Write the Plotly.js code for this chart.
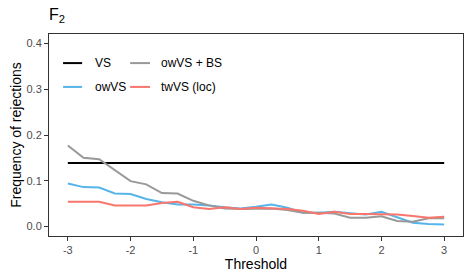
<!DOCTYPE html>
<html>
<head>
<meta charset="utf-8">
<script src="https://cdn.plot.ly/plotly-3.0.1.min.js"></script>
<style>html,body{margin:0;padding:0;background:#fff;}#chart{width:472px;height:280px;}</style>
</head>
<body>
<div id="chart"></div>
<script>
const thresholds = [-3,-2.75,-2.5,-2.25,-2,-1.75,-1.5,-1.25,-1,-0.75,-0.5,-0.25,0,0.25,0.5,0.75,1,1.25,1.5,1.75,2,2.25,2.5,2.75,3];
const seriesNames = ["VS", "owVS", "owVS + BS", "twVS (loc)"];
const vsValues = [0.139,0.139,0.139,0.139,0.139,0.139,0.139,0.139,0.139,0.139,0.139,0.139,0.139,0.139,0.139,0.139,0.139,0.139,0.139,0.139,0.139,0.139,0.139,0.139,0.139];
const owvsValues = [0.094,0.086,0.085,0.072,0.071,0.060,0.053,0.048,0.048,0.046,0.042,0.039,0.043,0.048,0.041,0.030,0.030,0.032,0.029,0.026,0.032,0.020,0.008,0.005,0.004];
const owvsBsValues = [0.177,0.150,0.147,0.122,0.099,0.092,0.073,0.072,0.056,0.046,0.039,0.038,0.038,0.039,0.036,0.030,0.030,0.028,0.019,0.019,0.022,0.012,0.010,0.018,0.018];
const twvsLocValues = [0.054,0.054,0.054,0.046,0.046,0.046,0.051,0.054,0.042,0.038,0.042,0.038,0.041,0.039,0.038,0.034,0.027,0.032,0.027,0.027,0.027,0.026,0.023,0.019,0.021];
const yTicks = [0, 0.1, 0.2, 0.3, 0.4];
const xTicks = [-3, -2, -1, 0, 1, 2, 3];

const colors = ["#000000", "#56B4E9", "#999999", "#F8766D"];
const values = [vsValues, owvsValues, owvsBsValues, twvsLocValues];

const traces = values.map((v, i) => ({
  x: thresholds, y: v, type: "scatter", mode: "lines", name: seriesNames[i],
  line: {color: colors[i], width: 2}, showlegend: false, hoverinfo: "skip"
}));

// manual legend (ggplot-style, 2 rows, filled by column)
const legendPos = [
  {x0: 0.034, x1: 0.080, tx: 0.106, y: 0.856},
  {x0: 0.034, x1: 0.080, tx: 0.106, y: 0.738},
  {x0: 0.196, x1: 0.244, tx: 0.266, y: 0.856},
  {x0: 0.196, x1: 0.244, tx: 0.266, y: 0.738}
];
const shapes = legendPos.map((p, i) => ({
  type: "line", xref: "paper", yref: "paper", x0: p.x0, x1: p.x1, y0: p.y, y1: p.y,
  line: {color: colors[i], width: 2}
}));
const annotations = legendPos.map((p, i) => ({
  xref: "paper", yref: "paper", x: p.tx, y: p.y, xanchor: "left", yanchor: "middle",
  text: seriesNames[i], showarrow: false, font: {size: 12, color: "#000"}
}));

const layout = {
  width: 472, height: 280,
  margin: {l: 49, r: 9, t: 34, b: 44},
  paper_bgcolor: "#fff", plot_bgcolor: "#fff",
  font: {family: "Liberation Sans, Arial, sans-serif", color: "#000"},
  title: {text: "F<sub>2</sub>", x: 0, xref: "paper", xanchor: "left", y: 0.95, yref: "container", yanchor: "middle", font: {size: 16, color: "#000"}},
  xaxis: {
    range: [-3.3, 3.3], tickvals: xTicks, ticktext: xTicks.map(String),
    showgrid: false, zeroline: false, showline: true, mirror: true, linecolor: "#333", linewidth: 1,
    ticks: "outside", ticklen: 4, tickcolor: "#333", tickfont: {size: 11, color: "#4D4D4D"},
    title: {text: "Threshold", font: {size: 14, color: "#000"}, standoff: 2}
  },
  yaxis: {
    range: [-0.021, 0.421], tickvals: yTicks, ticktext: yTicks.map(v => v.toFixed(1)),
    showgrid: false, zeroline: false, showline: true, mirror: true, linecolor: "#333", linewidth: 1,
    ticks: "outside", ticklen: 4, tickcolor: "#333", tickfont: {size: 11, color: "#4D4D4D"},
    title: {text: "Frequency of rejections", font: {size: 14, color: "#000"}, standoff: 1}
  },
  shapes: shapes, annotations: annotations, showlegend: false
};

Plotly.newPlot("chart", traces, layout, {displayModeBar: false, staticPlot: true});
</script>
</body>
</html>
